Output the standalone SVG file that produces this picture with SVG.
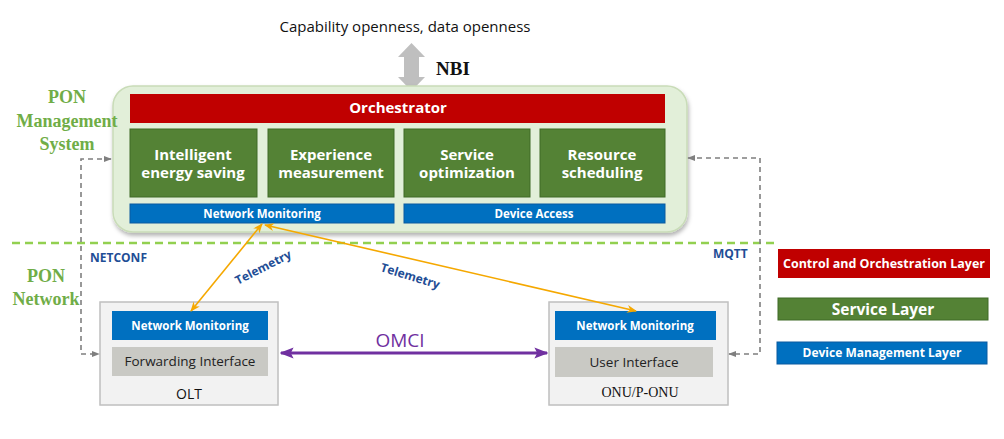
<svg xmlns="http://www.w3.org/2000/svg" width="1004" height="439" viewBox="0 0 1004 439">
<style>
.w{fill:#fff;font-family:"Open Sans","Liberation Sans",sans-serif;font-weight:bold;text-anchor:middle}
.gl{fill:#70ad47;font-family:"Liberation Serif",serif;font-weight:bold;font-size:18px;text-anchor:middle}
.bl{fill:#1f4e96;font-family:"Open Sans","Liberation Sans",sans-serif;font-weight:bold;font-size:12px}
.red{fill:#c00000}
.grn{fill:#548235;stroke:#3f6a27;stroke-width:1}
.blu{fill:#0070c0;stroke:#0a5aa0;stroke-width:1}
.gry{fill:#c9c9c4}
.dev{fill:#f2f2f2;stroke:#bfbfbf;stroke-width:1.5}
.dash{fill:none;stroke:#7f7f7f;stroke-width:1.6;stroke-dasharray:5,4}
.tel{fill:none;stroke:#f5a800;stroke-width:1.6}
</style>
<defs>
<filter id="sh" x="-5%" y="-5%" width="110%" height="115%"><feDropShadow dx="1" dy="3" stdDeviation="2" flood-color="#000" flood-opacity="0.3"/></filter>
<marker id="ag" viewBox="0 0 10 10" refX="9" refY="5" markerWidth="8" markerHeight="8" orient="auto-start-reverse" markerUnits="userSpaceOnUse"><path d="M0,1 L10,5 L0,9 z" fill="#7f7f7f"/></marker>
<marker id="ao" viewBox="0 0 10 10" refX="9" refY="5" markerWidth="10" markerHeight="10" orient="auto-start-reverse" markerUnits="userSpaceOnUse"><path d="M0,1 L10,5 L0,9 L3,5 z" fill="#f5a800"/></marker>
<marker id="ap" viewBox="0 0 10 10" refX="9" refY="5" markerWidth="14" markerHeight="14" orient="auto-start-reverse" markerUnits="userSpaceOnUse"><path d="M0,1 L10,5 L0,9 L2,5 z" fill="#7030a0"/></marker>
</defs>
<rect width="1004" height="439" fill="#fff"/>

<text x="405" y="32" font-family="Open Sans,Liberation Sans,sans-serif" font-size="15" text-anchor="middle" fill="#111">Capability openness, data openness</text>

<g id="nbi">
<path d="M411.5,43 L425,57 L419,57 L419,77 L425,77 L411.5,91 L398,77 L404,77 L404,57 L398,57 z" fill="#bfbfbf"/>
<text x="436" y="75" font-family="Liberation Serif,serif" font-weight="bold" font-size="19" fill="#111">NBI</text>
</g>

<g id="pon-management-system">
<rect x="113" y="86" width="574" height="146" rx="20" fill="#e2efd9" stroke="#c9dcb8" stroke-width="1.5" filter="url(#sh)"/>
<text class="gl"><tspan x="67" y="103">PON</tspan><tspan x="67" y="127">Management</tspan><tspan x="67" y="150">System</tspan></text>
</g>
<g id="orchestrator"><rect class="red" x="130" y="94" width="535" height="29"/><text class="w" x="398" y="113" font-size="15">Orchestrator</text></g>
<g id="energy"><rect class="grn" x="130" y="129" width="127" height="68"/><text class="w" x="193" y="160" font-size="15">Intelligent<tspan x="193" y="178">energy saving</tspan></text></g>
<g id="experience"><rect class="grn" x="268" y="129" width="126" height="68"/><text class="w" x="331" y="160" font-size="15">Experience<tspan x="331" y="178">measurement</tspan></text></g>
<g id="service"><rect class="grn" x="404" y="129" width="126" height="68"/><text class="w" x="467" y="160" font-size="15">Service<tspan x="467" y="178">optimization</tspan></text></g>
<g id="resource"><rect class="grn" x="540" y="129" width="125" height="68"/><text class="w" x="602" y="160" font-size="15">Resource<tspan x="602" y="178">scheduling</tspan></text></g>
<g id="nm-top"><rect class="blu" x="130" y="204" width="264" height="19"/><text class="w" x="262" y="218" font-size="11.5">Network Monitoring</text></g>
<g id="device-access"><rect class="blu" x="404" y="204" width="261" height="19"/><text class="w" x="534" y="218" font-size="11.5">Device Access</text></g>

<line x1="12" y1="243" x2="777" y2="243" stroke="#92d050" stroke-width="2.5" stroke-dasharray="8,5"/>

<g id="pon-network"><text class="gl"><tspan x="46" y="282">PON</tspan><tspan x="46" y="305">Network</tspan></text></g>

<g id="olt">
<rect class="dev" x="100" y="302" width="178" height="103"/>
<rect x="112" y="311" width="156" height="29" fill="#0070c0"/>
<text class="w" x="190" y="330" font-size="11.5">Network Monitoring</text>
<rect class="gry" x="112" y="347" width="156" height="29"/>
<text x="190" y="366" font-family="Open Sans,Liberation Sans,sans-serif" font-size="13.5" text-anchor="middle" fill="#222">Forwarding Interface</text>
<text x="189" y="399" font-family="Open Sans,Liberation Sans,sans-serif" font-size="14" text-anchor="middle" fill="#111">OLT</text>
</g>

<g id="onu">
<rect class="dev" x="549" y="302" width="179" height="103"/>
<rect x="555" y="311" width="161" height="29" fill="#0070c0"/>
<text class="w" x="635" y="330" font-size="11.5">Network Monitoring</text>
<rect class="gry" x="555" y="347" width="158" height="30"/>
<text x="634" y="367" font-family="Open Sans,Liberation Sans,sans-serif" font-size="13.5" text-anchor="middle" fill="#222">User Interface</text>
<text x="640" y="397" font-family="Liberation Serif,serif" font-size="14" text-anchor="middle" fill="#111">ONU/P-ONU</text>
</g>

<g id="connectors">
<path class="dash" d="M111,159 H81 V354 H99" marker-start="url(#ag)" marker-end="url(#ag)"/>
<path class="dash" d="M688,158 H760 V354 H729" marker-start="url(#ag)" marker-end="url(#ag)"/>
<line class="tel" x1="262" y1="224" x2="191" y2="311" marker-start="url(#ao)" marker-end="url(#ao)"/>
<line class="tel" x1="265" y1="225" x2="636" y2="311" marker-start="url(#ao)" marker-end="url(#ao)"/>
<line x1="281" y1="353" x2="547" y2="353" stroke="#7030a0" stroke-width="3" marker-start="url(#ap)" marker-end="url(#ap)"/>
<text x="400" y="347" font-family="Open Sans,Liberation Sans,sans-serif" font-size="19" text-anchor="middle" fill="#7030a0">OMCI</text>
<text class="bl" x="90" y="262">NETCONF</text>
<text class="bl" x="713" y="258">MQTT</text>
<text class="bl" x="0" y="0" text-anchor="middle" transform="translate(265,271) rotate(-27)">Telemetry</text>
<text class="bl" x="0" y="0" text-anchor="middle" transform="translate(409,280) rotate(17)">Telemetry</text>
</g>

<g id="legend-control"><rect class="red" x="778" y="249" width="212" height="29"/><text class="w" x="884" y="268" font-size="12.5" textLength="202" lengthAdjust="spacingAndGlyphs">Control and Orchestration Layer</text></g>
<g id="legend-service"><rect class="grn" x="778" y="298" width="210" height="22"/><text class="w" x="883" y="315" font-size="15.5">Service Layer</text></g>
<g id="legend-device"><rect class="blu" x="777" y="342" width="210" height="22"/><text class="w" x="882" y="357" font-size="12">Device Management Layer</text></g>
</svg>
